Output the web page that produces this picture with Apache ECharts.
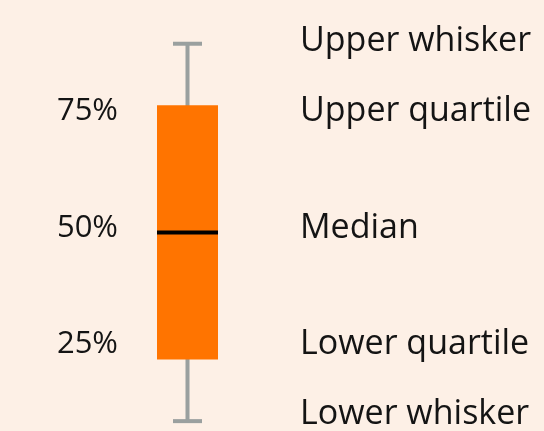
<!DOCTYPE html>
<html>
<head>
<meta charset="utf-8">
<script src="https://cdn.jsdelivr.net/npm/echarts@6/dist/echarts.min.js"></script>
<style>
  html, body { margin: 0; padding: 0; background: #FDF0E6; }
  #chart { width: 544px; height: 431px; }
</style>
</head>
<body>
<div id="chart"></div>
<script>
// ---- data ----
const categories = ['Box'];
// lower whisker, lower quartile, median, upper quartile, upper whisker
const boxValues = [12.9, 25, 50, 75, 87.1];
const percentTicks = [25, 50, 75];
const nameTicks = [10, 25, 50, 75, 90];
const nameLabels = ['Lower whisker', 'Lower quartile', 'Median', 'Upper quartile', 'Upper whisker'];

// ---- chart ----
const chart = echarts.init(document.getElementById('chart'), null, { renderer: 'canvas' });

const FONT = '"Open Sans", sans-serif';
const labelAxisBase = {
  type: 'value',
  min: 6.96,
  max: 98.98,
  axisLine: { show: false },
  axisTick: { show: false },
  splitLine: { show: false }
};

const option = {
  backgroundColor: '#FDF0E6',
  animation: false,
  grid: { left: 126, right: 295, top: 0, bottom: 0, containLabel: false },
  xAxis: {
    type: 'category',
    data: categories,
    show: false
  },
  yAxis: [
    { type: 'value', min: 11.52, max: 95.7, show: false },
    Object.assign({}, labelAxisBase, {
      position: 'left',
      axisLabel: {
        customValues: percentTicks,
        formatter: v => v + '%',
        fontFamily: FONT,
        fontSize: 31,
        color: '#141414',
        margin: 8
      }
    }),
    Object.assign({}, labelAxisBase, {
      position: 'right',
      axisLabel: {
        customValues: nameTicks,
        formatter: v => nameLabels[nameTicks.indexOf(v)],
        fontFamily: FONT,
        fontSize: 34,
        color: '#141414',
        align: 'left',
        margin: 51
      }
    })
  ],
  series: [{
    type: 'custom',
    yAxisIndex: 0,
    encode: { x: 0, y: [1, 2, 3, 4, 5] },
    data: categories.map((c, i) => [i].concat(boxValues)),
    renderItem: function (params, api) {
      const x = api.value(0);
      const lo = api.coord([x, api.value(1)]);
      const q1 = api.coord([x, api.value(2)]);
      const med = api.coord([x, api.value(3)]);
      const q3 = api.coord([x, api.value(4)]);
      const hi = api.coord([x, api.value(5)]);
      const boxW = 61, capHalf = 14.5;
      const cx = lo[0];
      const gray = '#9AA09F';
      return {
        type: 'group',
        children: [
          { type: 'line', shape: { x1: cx, y1: hi[1], x2: cx, y2: lo[1] }, style: { stroke: gray, lineWidth: 4 } },
          { type: 'line', shape: { x1: cx - capHalf, y1: hi[1], x2: cx + capHalf, y2: hi[1] }, style: { stroke: gray, lineWidth: 4 } },
          { type: 'line', shape: { x1: cx - capHalf, y1: lo[1], x2: cx + capHalf, y2: lo[1] }, style: { stroke: gray, lineWidth: 4 } },
          { type: 'rect', shape: { x: cx - boxW / 2, y: q3[1], width: boxW, height: q1[1] - q3[1] }, style: { fill: '#FF7400' } },
          { type: 'line', shape: { x1: cx - boxW / 2, y1: med[1], x2: cx + boxW / 2, y2: med[1] }, style: { stroke: '#000000', lineWidth: 4 } }
        ]
      };
    }
  }]
};

chart.setOption(option);
</script>
</body>
</html>
